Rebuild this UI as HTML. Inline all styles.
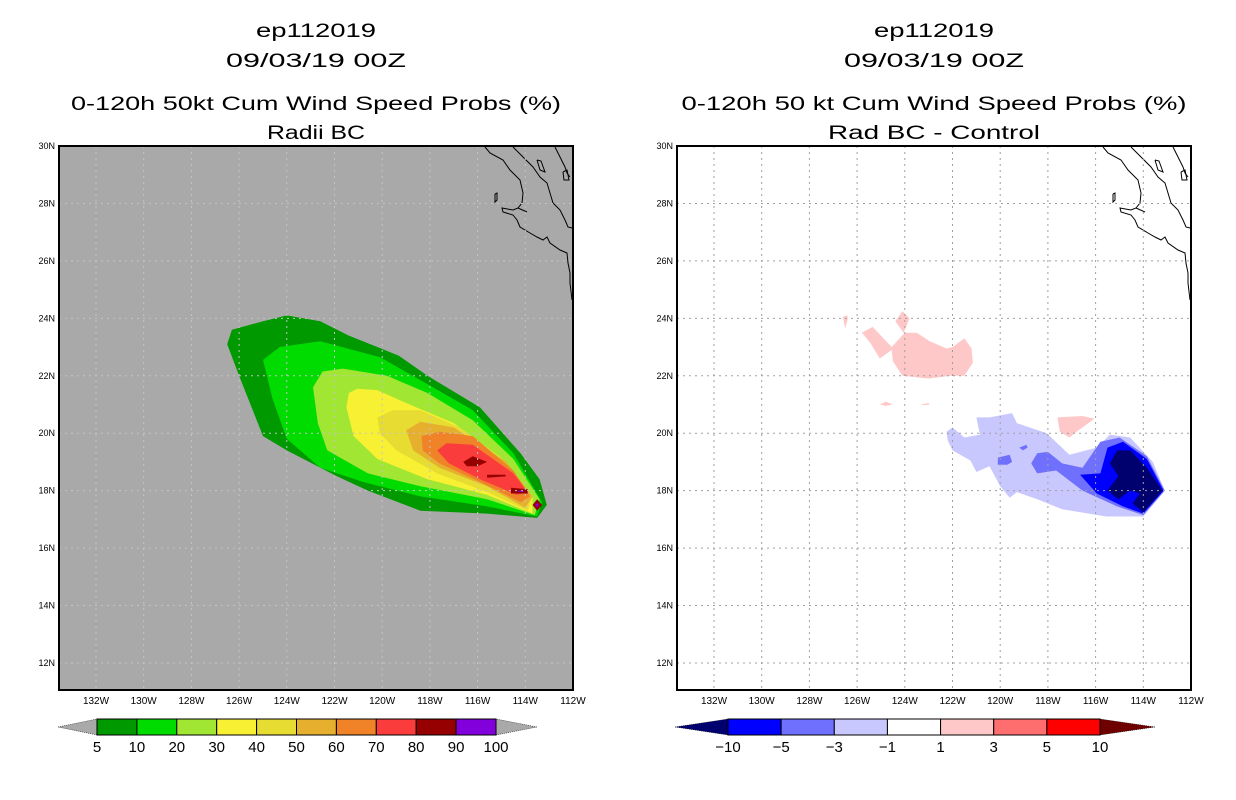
<!DOCTYPE html>
<html><head><meta charset="utf-8"><style>
html,body{margin:0;padding:0;background:#fff;}
svg{display:block;font-family:"Liberation Sans",sans-serif;}
</style></head><body>
<svg id="fig" width="1236" height="800" viewBox="0 0 1236 800"></svg>
<script>
// ---- data ----
const lonTicks=[132,130,128,126,124,122,120,118,116,114,112];
const latTicks=[12,14,16,18,20,22,24,26,28,30];
const probLevels=["5","10","20","30","40","50","60","70","80","90","100"];
const probColors=["#009900","#00dc00","#a0e632","#f8f032","#e6dc32","#e6af2d","#f08228","#fa3c3c","#960000","#8200dc"];
const diffLevels=["-10","-5","-3","-1","1","3","5","10"];
const diffColors=["#00006e","#0000ff","#7070ff","#c8c8ff","#ffffff","#ffc8c8","#ff6e6e","#ff0000","#6e0000"];
// probability contours [lonW, lat]
const prob5=[[126.5,23.1],[126.3,23.6],[125.0,23.9],[124.0,24.1],[122.6,23.9],[121.4,23.4],[119.3,22.7],[118.1,22.0],[115.9,20.9],[114.2,19.3],[113.4,18.4],[113.1,17.5],[113.5,17.05],[115.6,17.2],[118.4,17.3],[120.6,18.0],[121.9,18.5],[124.0,19.4],[125.0,19.9],[126.0,22.0]];
const prob10=[[125.0,22.55],[124.3,23.0],[122.6,23.2],[120.1,22.65],[118.4,21.85],[116.2,20.8],[114.5,19.3],[113.3,17.6],[113.5,17.1],[115.6,17.45],[118.4,17.8],[120.8,18.3],[122.6,18.8],[124.0,19.8],[124.6,21.2]];
const prob20=[[122.9,21.6],[122.5,22.15],[121.65,22.25],[119.8,22.0],[118.1,21.4],[116.2,20.45],[114.5,19.1],[113.4,17.7],[113.6,17.15],[115.6,17.7],[118.4,18.15],[120.6,18.6],[122.3,19.4],[122.7,20.35]];
const prob30=[[121.5,20.9],[121.4,21.4],[121.05,21.55],[120.2,21.5],[119.0,21.05],[117.0,20.35],[115.1,19.2],[113.7,17.8],[113.7,17.2],[115.6,17.85],[118.1,18.4],[120.2,19.1],[121.2,19.9]];
const prob40=[[120.2,20.55],[119.55,20.8],[118.4,20.8],[116.75,20.2],[114.95,19.1],[113.7,17.8],[113.9,17.3],[115.6,17.95],[117.7,18.6],[119.4,19.4],[120.1,20.0]];
const prob50=[[119.0,20.1],[118.4,20.4],[117.0,20.2],[114.8,19.0],[113.7,17.8],[114.0,17.4],[115.6,18.15],[117.6,18.8],[118.7,19.4]];
const prob60=[[118.35,19.9],[117.6,20.05],[116.2,19.9],[114.5,18.7],[113.8,17.8],[114.2,17.6],[115.9,18.3],[117.6,18.95],[118.3,19.4]];
const prob70=[[117.7,19.4],[117.3,19.65],[116.2,19.6],[114.5,18.6],[113.9,17.95],[114.35,17.85],[115.9,18.4],[117.2,18.95]];
const prob80a=[[116.6,19.0],[116.2,19.2],[115.6,19.0],[116.0,18.85],[116.45,18.85]];
const prob80b=[[115.6,18.55],[114.85,18.55],[114.8,18.5],[115.6,18.45]];
const prob80c=[[114.6,18.1],[113.9,18.05],[113.9,17.9],[114.6,17.9]];
const prob80d=[[113.7,17.5],[113.5,17.7],[113.3,17.5],[113.5,17.3]];
const prob90a=[[113.58,17.5],[113.5,17.58],[113.42,17.5],[113.5,17.42]];
const prob90b=[[114.3,18.0],[114.05,18.0],[114.05,17.96],[114.3,17.96]];
// difference contours
const diffPosA=[[125.8,23.5],[125.35,23.7],[124.55,23.0],[124.0,23.5],[123.5,23.5],[122.95,23.2],[122.25,22.95],[122.0,23.0],[121.5,23.3],[121.2,22.95],[121.15,22.45],[121.5,22.0],[122.1,22.0],[123.0,21.9],[124.1,22.0],[124.5,22.5],[124.55,22.9],[125.05,22.6],[125.45,23.15]];
const diffPosB=[[124.4,23.9],[124.1,24.25],[123.8,24.0],[124.05,23.5]];
const diffPosC=[[126.6,24.05],[126.4,24.1],[126.4,23.95],[126.5,23.65]];
const diffPosD=[[125.05,21.0],[124.8,21.1],[124.5,21.0],[124.8,20.95]];
const diffPosE=[[123.3,21.0],[123.0,21.05],[122.95,21.0],[123.3,20.97]];
const diffPosF=[[117.6,20.55],[116.55,20.6],[116.05,20.5],[116.8,20.05],[117.1,19.85],[117.5,20.05]];
const diffNeg1=[[122.25,20.05],[122.0,20.2],[121.5,19.85],[120.85,19.95],[121.0,20.55],[120.45,20.55],[119.5,20.7],[119.3,20.35],[118.05,20.0],[117.1,19.25],[115.95,19.5],[115.4,19.95],[114.55,19.85],[113.6,19.0],[113.1,18.0],[114.0,17.1],[115.55,17.1],[117.4,17.35],[118.45,17.7],[119.3,17.95],[119.6,17.75],[120.0,18.15],[120.45,18.85],[121.0,18.65],[121.25,19.05],[122.0,19.4],[122.2,19.75]];
const diffNeg3=[[118.7,18.95],[118.45,19.3],[118.0,19.35],[117.4,18.95],[116.55,18.8],[115.8,19.7],[115.0,19.85],[113.85,19.2],[113.1,18.0],[114.0,17.15],[115.1,17.45],[116.55,18.0],[117.65,18.7],[118.45,18.6]];
const diffNeg3b=[[120.1,19.15],[119.6,19.25],[119.5,19.0],[119.7,18.9],[120.1,18.9]];
const diffNeg3c=[[119.2,19.5],[118.9,19.6],[118.85,19.5],[119.05,19.4]];
const diffNeg5=[[116.65,18.55],[115.8,18.6],[115.5,19.5],[114.85,19.7],[113.85,19.1],[113.15,18.0],[114.0,17.2],[114.85,17.45],[115.95,17.9]];
const diffNeg10=[[115.4,18.95],[115.1,19.4],[114.55,19.4],[113.85,18.8],[113.2,18.0],[114.0,17.25],[114.45,17.55],[114.15,17.9],[114.55,18.0],[115.05,17.7],[115.5,18.0],[115.05,18.5]];

const NS="http://www.w3.org/2000/svg";
const svg=document.getElementById('fig');
function mk(tag,attrs,parent){const e=document.createElementNS(NS,tag);for(const k in attrs)e.setAttribute(k,attrs[k]);(parent||svg).appendChild(e);return e;}
function txt(x,y,s,size,anchor,parent){const t=mk('text',{x:x,y:y,'font-size':size,'text-anchor':anchor||'middle',fill:'#000'},parent);t.textContent=s;return t;}

const PT=146,PB=690,PW=514;
function xs(x0){return lon=>x0+37+(132-lon)*23.85;}
function ys(lat){return 146+(30-lat)*28.72;}

function coast(x0,g){
  const d=o=>{return o.map((p,i)=>(i?'L':'M')+(p[0]+x0-59)+' '+p[1]).join(' ');};
  const lines=[
   [[485,147],[490,153],[503,160],[510,170],[520,180],[523,193],[522,203],[518,208],[513,210],[502,208],[503,212],[513,215],[517,220],[520,227],[530,233],[537,237],[543,240],[547,237],[550,243],[560,250],[567,253],[568,263],[570,273],[570,283],[572,300]],
   [[518,208],[527,212]],
   [[513,147],[523,157],[533,167],[540,177],[547,183],[550,193],[553,203],[560,210],[565,220],[568,227],[572,228]],
   [[555,147],[560,157],[565,167],[567,173],[570,177]],
   [[495,194],[497,193],[497,200],[495,202],[495,194]],
   [[537,160],[541,161],[545,172],[540,170],[537,160]],
   [[563,172],[567,170],[569,180],[564,180],[563,172]]
  ];
  lines.forEach(l=>{const p=mk('path',{d:d(l),fill:'none',stroke:'#000','stroke-width':1},g);
    
    });
}

function panel(x0,bg,gridColor,polys,titles,widths,name){
  const g=mk('g',{});
  
  
  const X=xs(x0);
  const cx=x0+PW/2;
  const ls=[30,60,103,132];
  titles.forEach((t,i)=>{const e=txt(cx,ls[i]+7,t,19,'middle',g);
    e.setAttribute('textLength',widths[i]);
    e.setAttribute('lengthAdjust','spacingAndGlyphs');
    
    });
  const bgr=mk('rect',{x:x0,y:PT,width:PW,height:PB-PT,fill:bg},g);
  
  
  polys.forEach(pp=>{
    const p=mk('polygon',{points:pp.pts.map(q=>X(q[0]).toFixed(1)+','+ys(q[1]).toFixed(1)).join(' '),fill:pp.c},g);
    
    
  });
  coast(x0,g);
  lonTicks.forEach(l=>{const x=X(l);
    if(l!==112){const ln=mk('line',{x1:x,y1:PT,x2:x,y2:PB,stroke:gridColor,'stroke-width':1,'stroke-dasharray':'2,4'},g);
      
      }
    const t=txt(x,704,l+'W',10,'middle',g);
    
    });
  latTicks.forEach(l=>{const y=ys(l);
    if(l!==30){const ln=mk('line',{x1:x0,y1:y,x2:x0+PW,y2:y,stroke:gridColor,'stroke-width':1,'stroke-dasharray':'2,4'},g);
      
      }
    const t=txt(x0-4,y+3,l+'N',9,'end',g);
    
    });
  const fr=mk('rect',{x:x0,y:PT,width:PW,height:PB-PT,fill:'none',stroke:'#000','stroke-width':2},g);
  
  
}

panel(59,'#a9a9a9','#c4c4c4',[
 {pts:prob5,c:probColors[0],n:'contour-5'},{pts:prob10,c:probColors[1],n:'contour-10'},
 {pts:prob20,c:probColors[2],n:'contour-20'},{pts:prob30,c:probColors[3],n:'contour-30'},
 {pts:prob40,c:probColors[4],n:'contour-40'},{pts:prob50,c:probColors[5],n:'contour-50'},
 {pts:prob60,c:probColors[6],n:'contour-60'},{pts:prob70,c:probColors[7],n:'contour-70'},
 {pts:prob80a,c:probColors[8],n:'contour-80'},{pts:prob80b,c:probColors[8],n:'contour-80'},
 {pts:prob80c,c:probColors[8],n:'contour-80'},{pts:prob80d,c:probColors[8],n:'contour-80'},
 {pts:prob90a,c:probColors[9],n:'contour-90'},{pts:prob90b,c:probColors[9],n:'contour-90'}
],['ep112019','09/03/19 00Z','0-120h 50kt Cum Wind Speed Probs (%)','Radii BC'],[120,180,490,98],'left-map-panel');

panel(677,'#ffffff','#a0a0a0',[
 {pts:diffPosA,c:diffColors[5],n:'diff-pos-1'},{pts:diffPosB,c:diffColors[5],n:'diff-pos-1'},
 {pts:diffPosC,c:diffColors[5],n:'diff-pos-1'},{pts:diffPosD,c:diffColors[5],n:'diff-pos-1'},
 {pts:diffPosE,c:diffColors[5],n:'diff-pos-1'},{pts:diffPosF,c:diffColors[5],n:'diff-pos-1'},
 {pts:diffNeg1,c:diffColors[3],n:'diff-neg-1'},{pts:diffNeg3,c:diffColors[2],n:'diff-neg-3'},
 {pts:diffNeg3b,c:diffColors[2],n:'diff-neg-3'},{pts:diffNeg3c,c:diffColors[2],n:'diff-neg-3'},
 {pts:diffNeg5,c:diffColors[1],n:'diff-neg-5'},{pts:diffNeg10,c:diffColors[0],n:'diff-neg-10'}
],['ep112019','09/03/19 00Z','0-120h 50 kt Cum Wind Speed Probs (%)','Rad BC - Control'],[120,180,505,212],'right-map-panel');

// colorbars
function colorbar(x0,x1,triL,triR,cols,levels,leftTri,rightTri,name){
  const g=mk('g',{});
  
  
  const y0=719,y1=735,ym=727,n=cols.length;
  const w=(x1-x0)/n;
  const l=mk('polygon',{points:`${triL},${ym} ${x0},${y0} ${x0},${y1}`,fill:leftTri,stroke:'#000','stroke-width':0.5,'stroke-dasharray':'1,1'},g);
  
  
  const r=mk('polygon',{points:`${triR},${ym} ${x1},${y0} ${x1},${y1}`,fill:rightTri,stroke:'#000','stroke-width':0.5,'stroke-dasharray':'1,1'},g);
  
  
  cols.forEach((c,i)=>{const b=mk('rect',{x:x0+i*w,y:y0,width:w,height:y1-y0,fill:c,stroke:'#000','stroke-width':1},g);
    
    });
  levels.forEach((s,i)=>{const t=txt(x0+i*w+(levels.length===n+1?0:w),752,s.replace('-','\u2212'),15,'middle',g);
    
    });
}
colorbar(97,496,58,537,probColors,probLevels,'#a9a9a9','#a9a9a9','left-colorbar');
colorbar(728,1100,675,1155,diffColors.slice(1,8),diffLevels,diffColors[0],diffColors[8],'right-colorbar');
</script>
</body></html>
